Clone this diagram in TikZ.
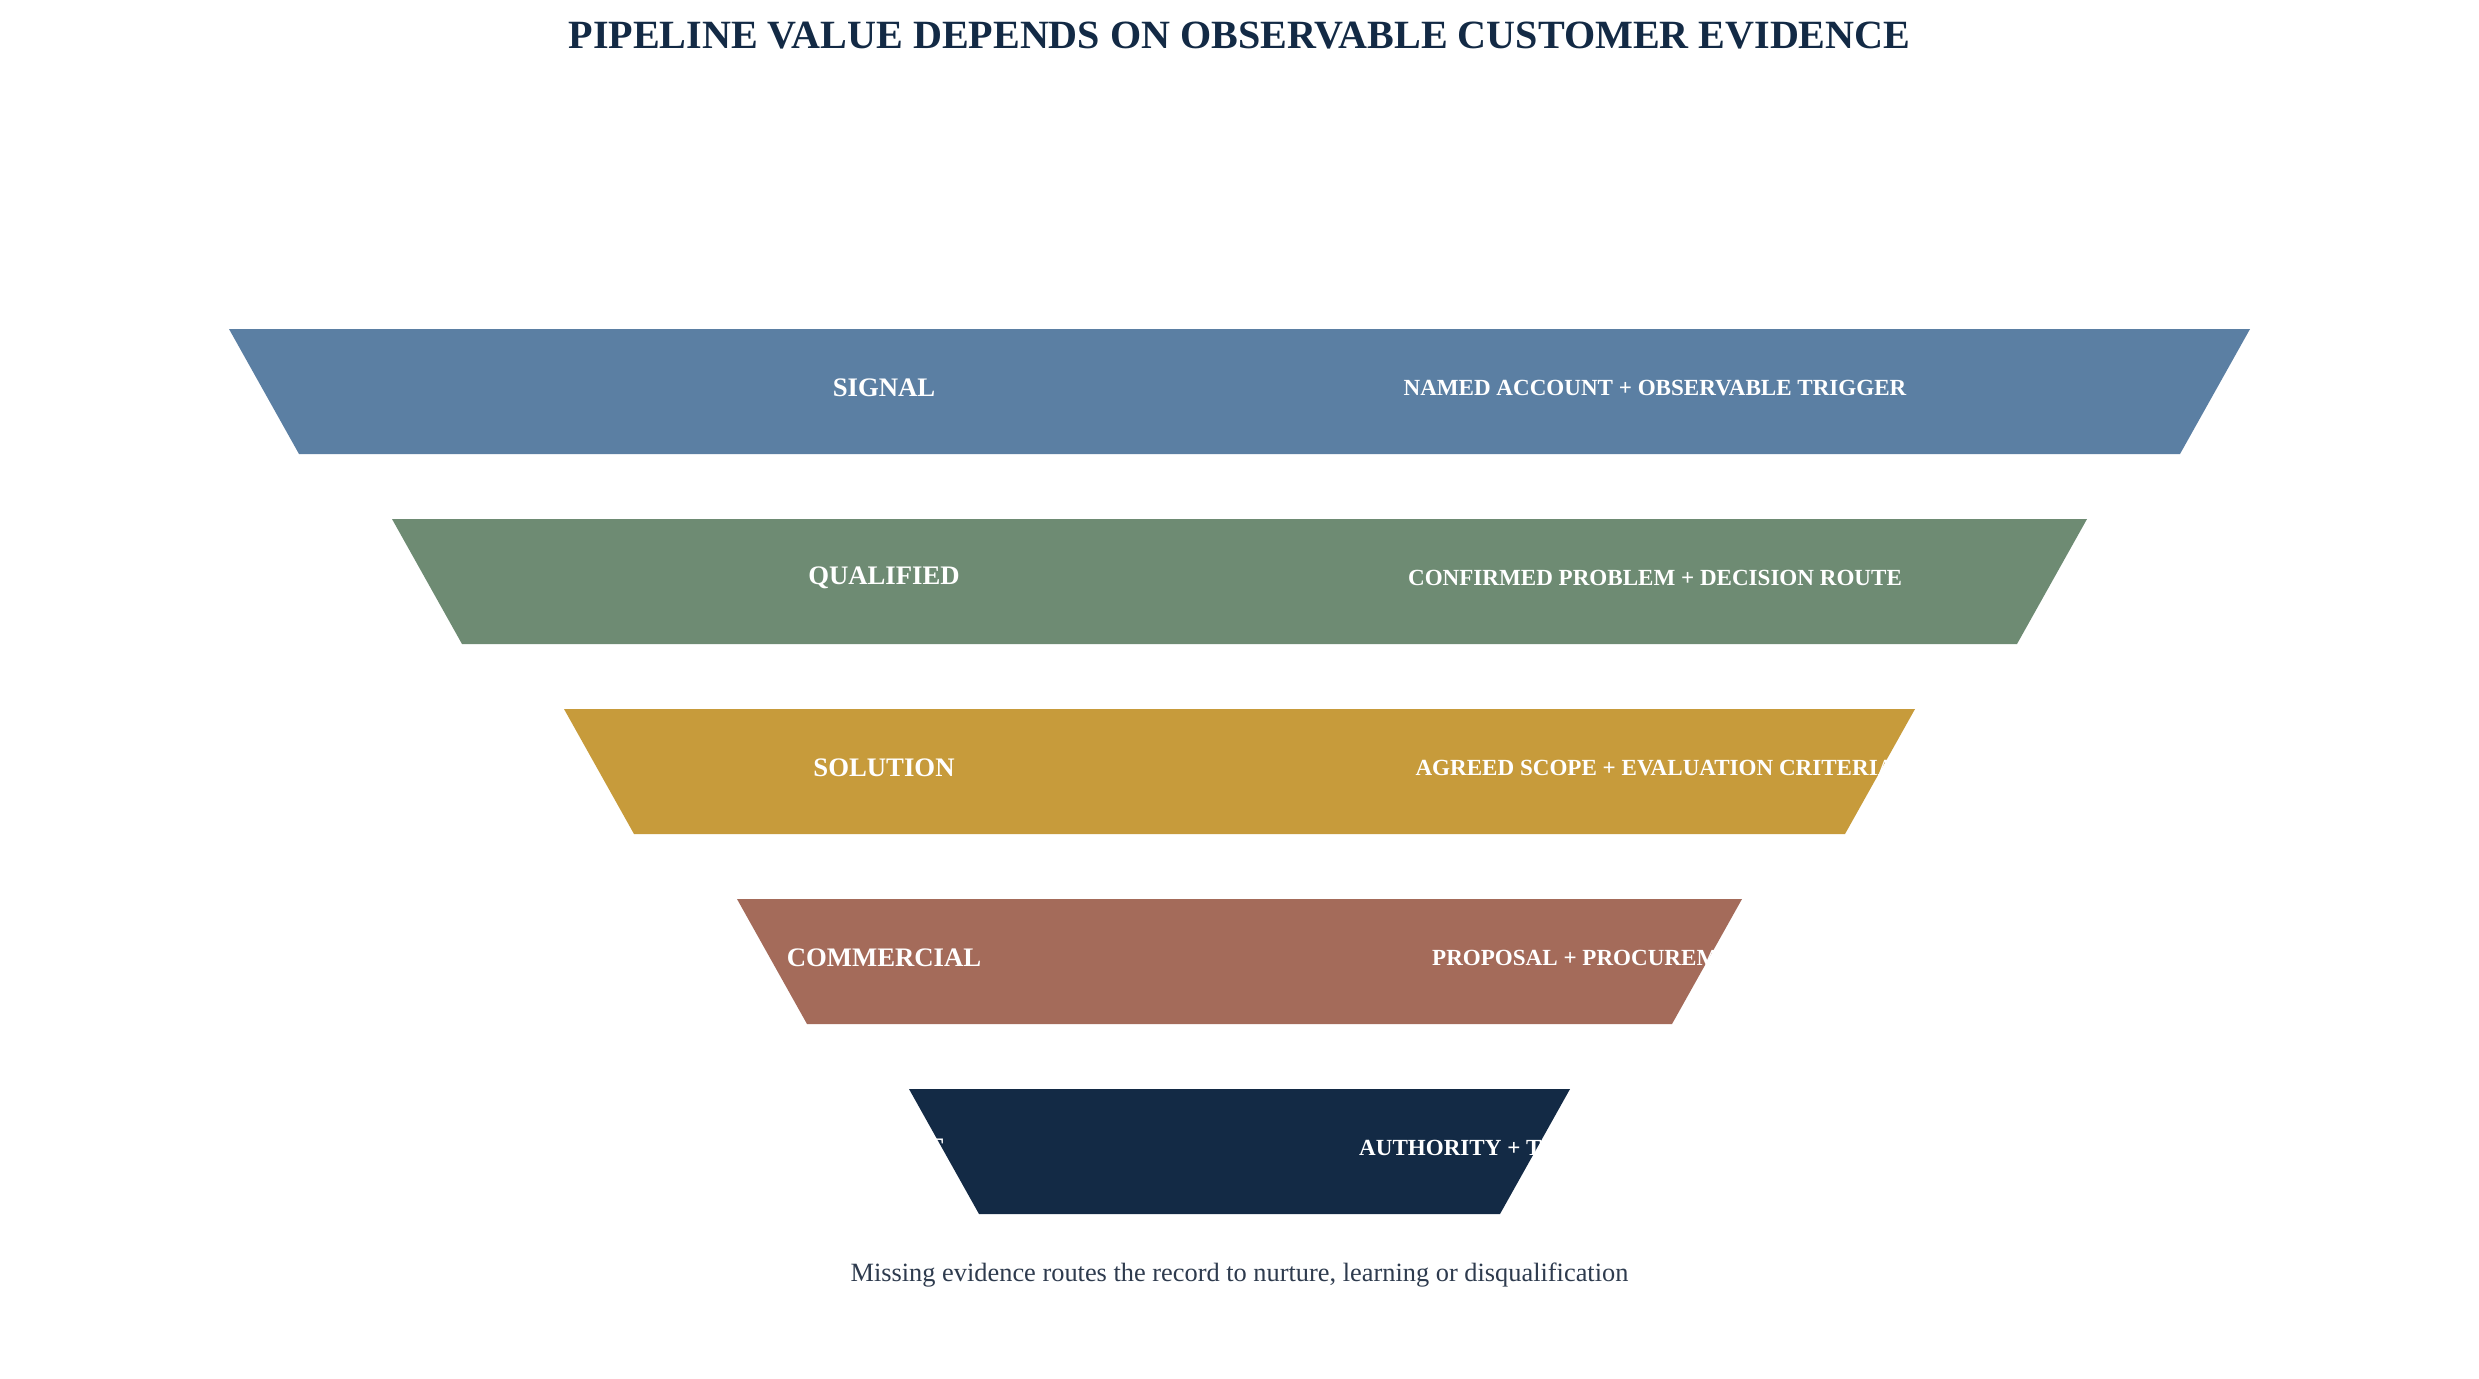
\documentclass[tikz,border=0pt]{standalone}
\usepackage{fontspec}
\setmainfont{Liberation Serif}
\definecolor{navy}{HTML}{132A45}
\definecolor{bandA}{HTML}{5B7FA3}
\definecolor{bandB}{HTML}{6E8B73}
\definecolor{bandC}{HTML}{C79B3B}
\definecolor{bandD}{HTML}{A46B5A}
\definecolor{bandE}{HTML}{132A45}
\definecolor{notecol}{HTML}{2E3B4E}
\begin{document}
\begin{tikzpicture}[x=0.01cm,y=-0.01cm,
  titlestyle/.style={text=navy,font=\fontsize{11.4}{13}\selectfont\bfseries,inner sep=0pt},
  stagelabel/.style={text=white,font=\fontsize{7.6}{9}\selectfont\bfseries,inner sep=0pt},
  evidlabel/.style={text=white,font=\fontsize{6.56}{8}\selectfont\bfseries,inner sep=0pt},
  notestyle/.style={text=notecol,font=\fontsize{7.5}{9}\selectfont,inner sep=0pt}]
\useasboundingbox[fill=white] (0,0) rectangle (2479,1379);
\node[titlestyle] (title) at (1239.5,36) {PIPELINE VALUE DEPENDS ON OBSERVABLE CUSTOMER EVIDENCE};
% bands
\fill[bandA] (229,329) -- (2250,329) -- (2180,454) -- (299,454) -- cycle;
\fill[bandB] (392,519) -- (2087,519) -- (2017,644) -- (462,644) -- cycle;
\fill[bandC] (564,709) -- (1915,709) -- (1845,834) -- (634,834) -- cycle;
\fill[bandD] (737,899) -- (1742,899) -- (1672,1024) -- (807,1024) -- cycle;
\fill[bandE] (909,1089) -- (1570,1089) -- (1500,1214) -- (979,1214) -- cycle;
% labels
\node[stagelabel] (s1) at (884,388) {SIGNAL};
\node[evidlabel] (e1) at (1655,388) {NAMED ACCOUNT + OBSERVABLE TRIGGER};
\node[stagelabel] (s2) at (884,578) {QUALIFIED};
\node[evidlabel] (e2) at (1655,578) {CONFIRMED PROBLEM + DECISION ROUTE};
\node[stagelabel] (s3) at (884,768) {SOLUTION};
\node[evidlabel] (e3) at (1655,768) {AGREED SCOPE + EVALUATION CRITERIA};
\node[stagelabel] (s4) at (884,958) {COMMERCIAL};
\node[evidlabel] (e4) at (1655,958) {PROPOSAL + PROCUREMENT PROCESS};
\node[stagelabel] (s5) at (884,1148) {COMMIT};
\node[evidlabel] (e5) at (1655,1148) {AUTHORITY + TIMELINE + MUTUAL ACTION PLANS};
\node[notestyle] (note) at (1239.5,1275) {Missing evidence routes the record to nurture, learning or disqualification};
\end{tikzpicture}
\end{document}
